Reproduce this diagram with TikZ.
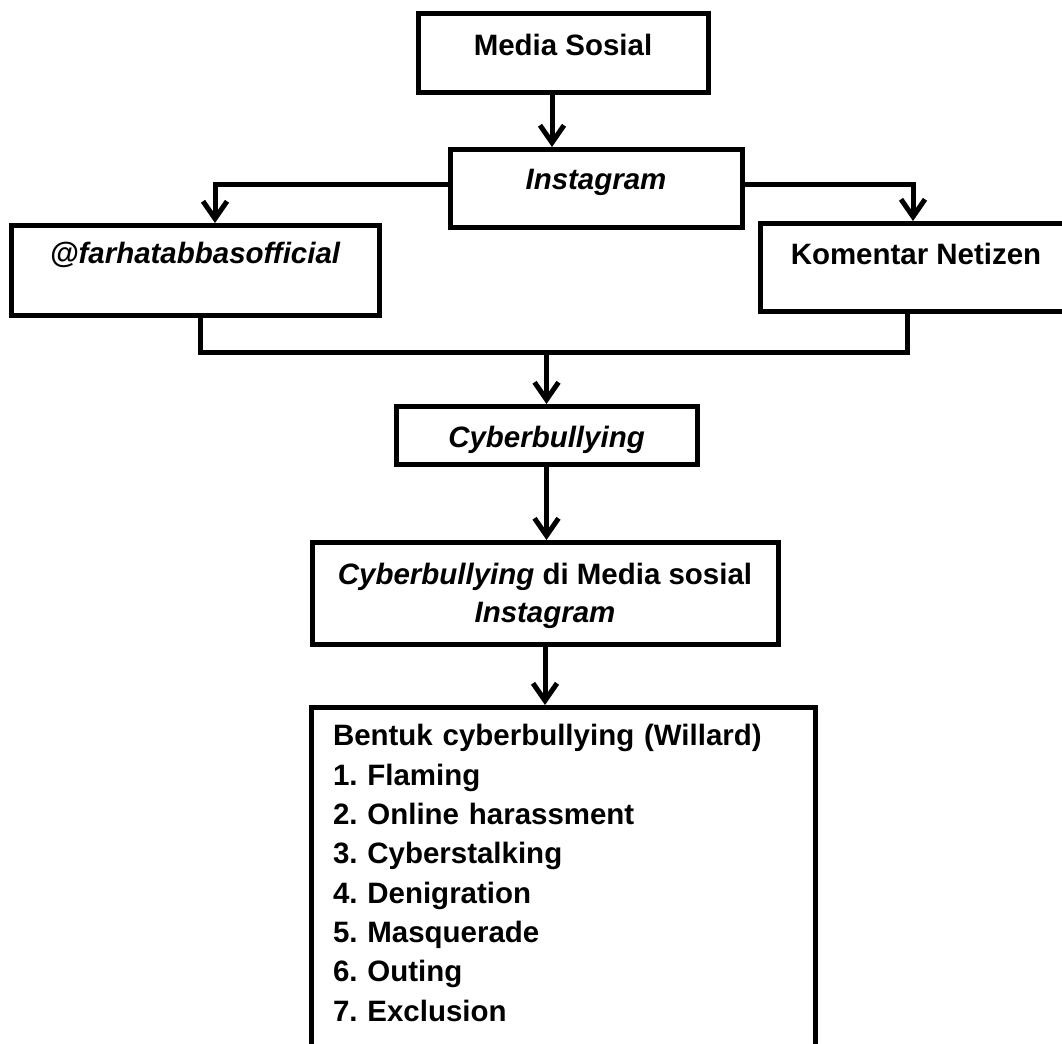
\documentclass[tikz,border=0pt]{standalone}
\usepackage{fontspec}
\setmainfont{Liberation Sans}
\usetikzlibrary{arrows.meta, positioning}
\definecolor{ink}{HTML}{000000}
\newcommand{\boxfont}{\fontsize{22.1pt}{28.7pt}\selectfont\bfseries\frenchspacing}
\tikzset{
  box/.style={rectangle, draw=ink, line width=3.75pt, inner xsep=0pt,
              inner ysep=0pt, font=\boxfont, text=ink, anchor=north},
  conn/.style={draw=ink, line width=3.75pt},
  arr/.style={conn, -{Straight Barb[length=13pt, width=18pt]}}
}

\begin{document}
\begin{tikzpicture}[x=0.75pt, y=-0.75pt]

  % ---- Page frame ----------------------------------------------------------
  \useasboundingbox (0,0) rectangle (1062,1043);
  \clip (0,0) rectangle (1062,1043);

  % ---- Boxes ---------------------------------------------------------------
  \node[box, minimum width=217.5pt, text height=31.3pt, text depth=28pt]
        (media) at (563,11) {Media Sosial};
  \node[box, minimum width=219pt, text height=29.8pt, text depth=28.7pt]
        (insta) at (596,147) {\itshape Instagram};
  \node[box, minimum width=276pt, text height=28.5pt, text depth=39pt]
        (farhat) at (195,223) {\itshape @farhatabbasofficial};
  \node[box, minimum width=234pt, text height=30.5pt, text depth=35.5pt]
        (komentar) at (916,221) {Komentar Netizen};
  \node[box, minimum width=225.75pt, text height=30.75pt, text depth=12.75pt]
        (cyber) at (546.5,404) {\itshape Cyberbullying};
  \node[box, minimum width=349.5pt, text height=60pt, text depth=16.5pt,
        align=center]
        (cybig) at (545,540) {\textit{Cyberbullying} di Media sosial\\\textit{Instagram}};
  \node[box, inner xsep=16.5pt, text width=345pt, align=left,
        text height=28.7pt, text depth=245pt,
        font=\fontsize{22.1pt}{29.5pt}\selectfont\bfseries\frenchspacing]
        (bentuk) at (563,705) {Bentuk cyberbullying (Willard)\\
          1. Flaming\\
          2. Online harassment\\
          3. Cyberstalking\\
          4. Denigration\\
          5. Masquerade\\
          6. Outing\\
          7. Exclusion};

  % ---- Junction of the two branches ----------------------------------------
  \coordinate (jl) at (200,352);
  \coordinate (jr) at (907,352);

  % ---- Connectors ----------------------------------------------------------
  \draw[arr] (media.south -| 552,0) -- (insta.north -| 552,0);
  \draw[arr] (insta.west |- 0,184) -| (farhat.north -| 215,0);
  \draw[arr] (insta.east |- 0,184) -| (komentar.north -| 913,0);
  \draw[conn] (farhat.south -| jl) -- (jl) -- (jr) -- (komentar.south -| jr);
  \draw[arr] (cyber.north |- jl) -- (cyber.north);
  \draw[arr] (cyber.south) -- (cyber.south |- cybig.north);
  \draw[arr] (cybig.south) -- (cybig.south |- bentuk.north);

\end{tikzpicture}
\end{document}
